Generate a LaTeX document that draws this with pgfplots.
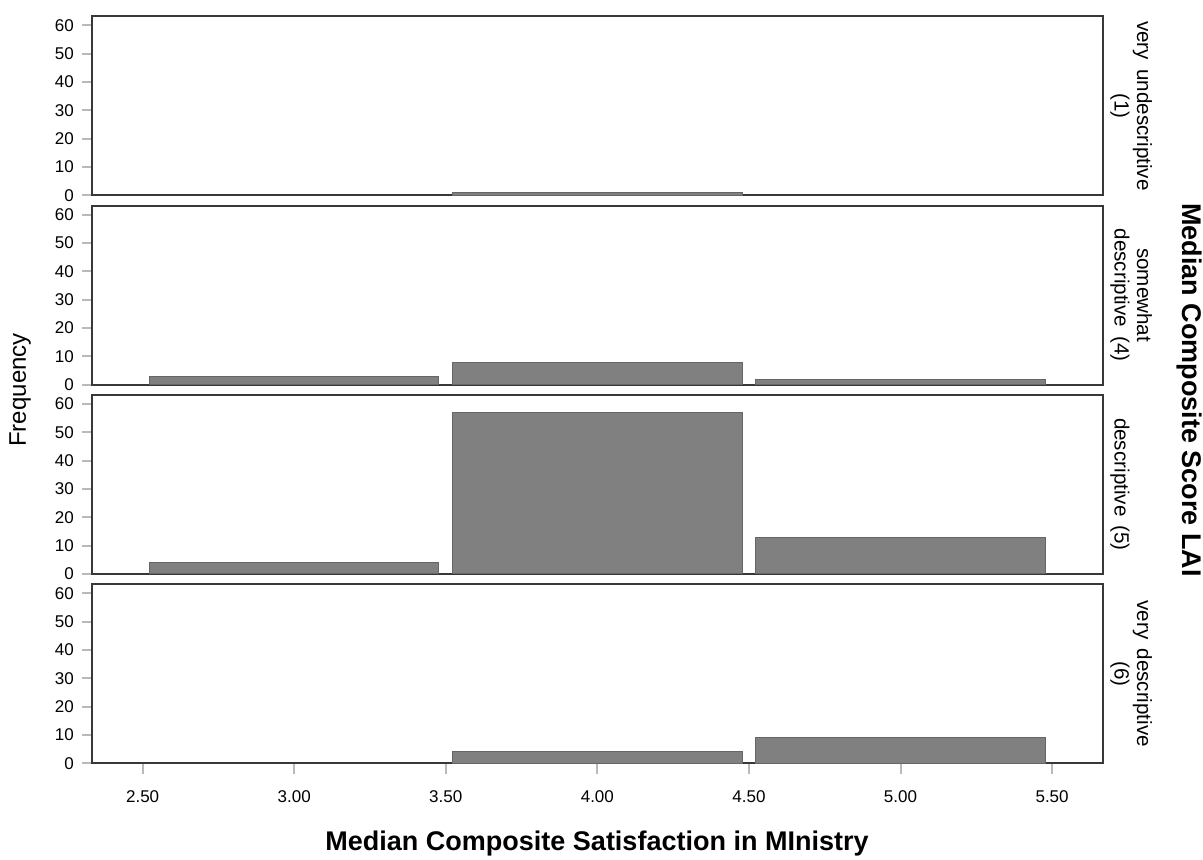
\documentclass[border=0pt]{standalone}
\usepackage{fontspec}
\setmainfont{Liberation Sans}
\usepackage{pgfplots}
\pgfplotsset{compat=1.18}
\definecolor{barfill}{HTML}{808080}
\definecolor{baredge}{HTML}{666666}
\pgfplotsset{panel/.style={
  scale only axis, width=505.2pt, height=89.5pt,
  xmin=2.334, xmax=5.667, ymin=0, ymax=63.2,
  ytick={0,10,20,30,40,50,60},
  tick align=outside, major tick length=5.2pt,
  tick style={draw=gray!55, line width=1pt},
  axis line style={draw=black!78, line width=0.9pt},
  ytick pos=left, xtick pos=bottom,
  yticklabel style={font=\fontsize{8.5}{9}\selectfont, xshift=-0.5pt},
  xticklabel style={font=\fontsize{8.5}{9}\selectfont, yshift=-5pt},
  /pgf/number format/assume math mode=true,
  xticklabel style={/pgf/number format/.cd, fixed, fixed zerofill, precision=2},
  ybar, bar width=0.955,
  anchor=south west,
}}
\begin{document}
\begin{tikzpicture}
\path[use as bounding box] (-46.15pt,-48.35pt) rectangle (555.35pt,381.65pt);
% panel 1: very undescriptive (1)
\begin{axis}[panel, at={(0pt,283.95pt)}, xtick=\empty]
\addplot[fill=barfill, draw=baredge, line width=0.5pt] coordinates {(4,1)};
\end{axis}
% panel 2: somewhat descriptive (4)
\begin{axis}[panel, at={(0pt,189.3pt)}, xtick=\empty]
\addplot[fill=barfill, draw=baredge, line width=0.5pt] coordinates {(3,3) (4,8) (5,2)};
\end{axis}
% panel 3: descriptive (5)
\begin{axis}[panel, at={(0pt,94.65pt)}, xtick=\empty]
\addplot[fill=barfill, draw=baredge, line width=0.5pt] coordinates {(3,4) (4,57) (5,13)};
\end{axis}
% panel 4: very descriptive (6)
\begin{axis}[panel, at={(0pt,0pt)}, xtick={2.5,3,3.5,4,4.5,5,5.5}]
\addplot[fill=barfill, draw=baredge, line width=0.5pt] coordinates {(4,4) (5,9)};
\end{axis}
% strip labels
\begin{scope}[every node/.style={rotate=-90, anchor=south, inner sep=0pt, align=center, font=\fontsize{10.3}{11.2}\selectfont}]
\node at (508.85pt,328.7pt) {very\, undescriptive\\(1)};
\node at (508.85pt,234.05pt) {somewhat\\descriptive\, (4)};
\node at (508.85pt,139.4pt) {descriptive\, (5)};
\node at (508.85pt,44.75pt) {very\, descriptive\\(6)};
\end{scope}
\node[rotate=90, font=\fontsize{12}{14}\selectfont] at (-36.15pt,186.65pt) {Frequency};
\node[rotate=-90, anchor=base, font=\fontsize{13.5}{16}\selectfont\bfseries] at (544.9pt,186.65pt) {Median Composite Score LAI};
\node[anchor=base, font=\fontsize{13.5}{16}\selectfont\bfseries] at (252.35pt,-43.85pt) {Median Composite Satisfaction in MInistry};
\end{tikzpicture}
\end{document}
